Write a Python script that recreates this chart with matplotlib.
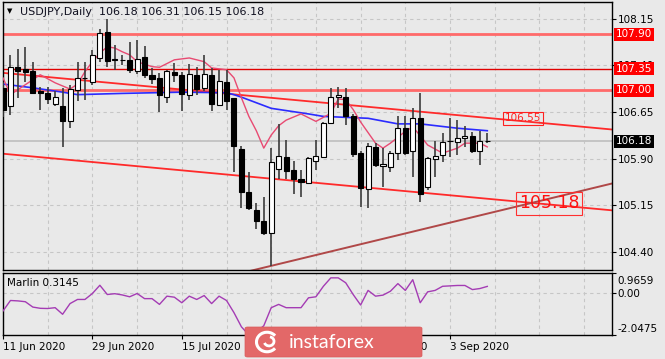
import matplotlib
matplotlib.use("Agg")
import matplotlib.pyplot as plt
from matplotlib.patches import FancyBboxPatch, Arc
from matplotlib.transforms import blended_transform_factory

# ---------------- data ----------------
symbol = "USDJPY,Daily"
date_ticks = [0, 12, 24, 36, 48, 60]
date_labels = ["11 Jun 2020", "29 Jun 2020", "15 Jul 2020", "31 Jul 2020", "18 Aug 2020", "3 Sep 2020"]

opens = [107.04, 106.75, 107.38, 107.34, 107.31, 106.99, 106.96, 106.78, 106.75, 106.50,
         107.00, 107.19, 107.14, 107.52, 107.93, 107.50, 107.49, 107.48, 107.31, 107.53,
         107.25, 107.19, 106.89, 107.30, 107.25, 106.92, 107.25, 107.03, 107.24, 106.77,
         107.13, 106.87, 106.06, 105.37, 105.07, 104.90, 104.70, 105.74, 105.93, 105.72,
         105.57, 105.51, 105.86, 105.92, 106.48, 106.89, 106.90, 106.58, 105.99, 105.42,
         106.09, 105.78, 105.77, 105.99, 106.40, 106.03, 106.56, 105.45, 105.89, 105.96,
         106.18, 106.17, 106.23, 106.27, 106.03, 106.18]
highs = [107.14, 107.56, 107.67, 107.69, 107.46, 107.05, 107.05, 106.99, 107.03, 107.08,
         107.46, 107.46, 107.65, 107.98, 108.15, 107.73, 107.56, 107.77, 107.81, 107.72,
         107.36, 107.28, 107.33, 107.44, 107.30, 107.42, 107.38, 107.56, 107.36, 107.33,
         107.33, 106.88, 106.11, 105.69, 105.18, 105.29, 106.08, 106.45, 106.20, 105.86,
         105.72, 105.92, 106.20, 106.49, 107.03, 107.06, 107.03, 106.62, 106.02, 106.15,
         106.15, 106.08, 106.03, 106.58, 106.59, 106.71, 106.95, 105.93, 106.18, 106.31,
         106.56, 106.52, 106.42, 106.33, 106.34, 106.31]
lows = [106.57, 106.60, 106.88, 107.14, 106.94, 106.68, 106.78, 106.75, 106.09, 106.39,
        106.82, 106.85, 107.09, 107.46, 107.38, 107.33, 107.41, 107.28, 107.26, 107.20,
        107.10, 106.65, 106.79, 107.13, 106.67, 106.85, 106.93, 106.99, 106.67, 106.74,
        106.69, 105.69, 105.11, 105.07, 104.77, 104.68, 104.18, 105.57, 105.57, 105.33,
        105.29, 105.49, 105.72, 105.91, 106.46, 106.71, 106.44, 105.93, 105.13, 105.10,
        105.77, 105.45, 105.68, 105.88, 105.96, 105.61, 105.21, 105.40, 105.60, 105.84,
        105.93, 105.96, 106.09, 105.99, 105.80, 106.15]
closes = [106.68, 107.38, 107.31, 107.30, 106.96, 106.95, 106.86, 106.89, 106.50, 107.02,
          107.19, 107.20, 107.56, 107.92, 107.47, 107.49, 107.48, 107.33, 107.51, 107.25,
          107.18, 106.92, 107.31, 107.25, 106.94, 107.26, 107.02, 107.26, 106.78, 107.15,
          106.83, 106.11, 105.37, 105.10, 104.90, 104.70, 105.84, 105.95, 105.70, 105.57,
          105.53, 105.91, 105.95, 106.47, 106.89, 106.93, 106.59, 105.97, 105.43, 106.11,
          105.80, 105.81, 105.99, 106.40, 105.99, 106.56, 105.34, 105.91, 105.94, 106.17,
          106.18, 106.23, 106.27, 106.03, 106.18, 106.18]

level_lines = [107.90, 107.35, 107.00]
level_styles = [("#ff6a6a", 2.0), ("#e00000", 1.0), ("#ff6a6a", 2.0)]
price_ticks = [108.15, 107.40, 106.65, 105.90, 105.15, 104.40]

upper_channel_x = [0, 81.7]
upper_channel_y = [107.28, 106.37]
lower_channel_x = [0, 81.7]
lower_channel_y = [105.98, 105.07]
support_x = [33, 81.7]
support_y = [104.09, 105.50]

label_upper = 106.55
label_cross = 105.18

blue_ma_bars = [0, 4, 8, 10, 16, 24, 30, 31, 32, 36, 41, 43, 49, 53, 56, 61, 65]
blue_ma_vals = [107.10, 107.04, 106.97, 106.93, 106.95, 106.97, 106.96, 106.93, 106.89,
                106.71, 106.62, 106.58, 106.55, 106.46, 106.46, 106.39, 106.35]

pink_ma_bars = [0, 1, 5, 7, 9, 10, 11, 12, 13, 14, 15, 16, 17, 18, 20, 21, 23, 25, 27, 28,
                30, 31, 32, 33, 34, 35, 36, 37, 38, 40, 42, 44, 45, 46, 47, 48, 49, 50, 51,
                52, 54, 55, 56, 57, 59, 61, 62, 64, 65]
pink_ma_vals = [107.20, 106.93, 107.25, 107.12, 107.02, 107.10, 107.30, 107.46, 107.60, 107.70,
                107.68, 107.62, 107.57, 107.46, 107.38, 107.37, 107.49, 107.52, 107.46, 107.36,
                107.33, 107.20, 106.88, 106.58, 106.35, 106.07, 106.28, 106.43, 106.52, 106.62,
                106.50, 106.63, 106.86, 106.85, 106.69, 106.49, 106.32, 106.15, 106.07,
                106.15, 106.34, 106.41, 106.27, 106.12, 105.99, 106.07, 106.15, 106.15, 106.09]

marlin_vals = [-0.88, -0.37, -0.39, -0.43, -0.69, -0.75, -0.76, -0.72, -1.04, -0.52,
               -0.32, -0.32, -0.03, 0.37, -0.08, -0.04, -0.10, -0.19, -0.03, -0.28,
               -0.28, -0.56, -0.16, -0.21, -0.48, -0.16, -0.32, -0.13, -0.52, -0.16,
               -0.37, -0.96, -1.65, -2.0475, -1.90, -1.60, -0.72, -0.56, -0.72, -0.72,
               -0.72, -0.24, -0.19, 0.32, 0.73, 0.73, 0.49, -0.08, -0.59, 0.12,
               -0.16, -0.11, 0.08, 0.45, 0.12, 0.64, -0.48, 0.05, 0.12, 0.32,
               0.34, 0.36, 0.36, 0.16, 0.21, 0.3145]
marlin_max = 0.9659
marlin_min = -2.0475
marlin_ticks = [0.9659, 0.0, -2.0475]
marlin_tick_labels = ["0.9659", "0.00", "-2.0475"]

# ---------------- figure ----------------
W, H = 665, 359
BG = "#e9e9e9"
GRID = "#c6c6c6"
FS = 7.5
fig = plt.figure(figsize=(W / 100, H / 100), dpi=100)
fig.patch.set_facecolor(BG)


def px_axes(x0, y0, x1, y1):
    return fig.add_axes([x0 / W, 1 - y1 / H, (x1 - x0) / W, (y1 - y0) / H])


ax = px_axes(3, 2, 612, 270)
ax2 = px_axes(3, 273, 612, 335)
XMAX = 81.74
for a in (ax, ax2):
    a.set_facecolor(BG)
    a.set_xlim(0, XMAX)
    for s in a.spines.values():
        s.set_color("black")
        s.set_linewidth(1.0)
    a.set_axisbelow(True)

# ---------------- main panel ----------------
ax.set_ylim(104.11, 108.42)
ax.set_xticks(range(0, 82, 6))
ax.tick_params(axis="x", length=0, labelbottom=False)
ax.yaxis.tick_right()
ax.set_yticks(price_ticks)
ax.set_yticklabels([f"{v:.2f}" for v in price_ticks])
ax.tick_params(axis="y", direction="out", length=3, width=0.8, pad=1.5, labelsize=FS, colors="black")
ax.grid(True, ls=(0, (3, 3)), color=GRID, lw=0.8)

# current price line
ax.axhline(closes[-1], color="#c4c4c4", lw=1.4, zorder=1)

# horizontal levels
for lvl, (c, lw) in zip(level_lines, level_styles):
    ax.axhline(lvl, color=c, lw=lw, zorder=2)

# trend lines
ax.plot(upper_channel_x, upper_channel_y, color="#ff2a2a", lw=1.3, zorder=2)
ax.plot(lower_channel_x, lower_channel_y, color="#ff2a2a", lw=1.3, zorder=2)
ax.plot(support_x, support_y, color="#b04848", lw=1.4, zorder=2)

# moving averages
ax.plot(blue_ma_bars, blue_ma_vals, color="#2b2bff", lw=1.2, zorder=3)
ax.plot(pink_ma_bars, pink_ma_vals, color="#e84a72", lw=1.0, zorder=3)

# candles
bars = list(range(len(opens)))
ax.vlines(bars, lows, highs, color="#3c3c3c", lw=1.2, zorder=4)
for i in bars:
    o, c = opens[i], closes[i]
    up = c >= o
    ax.bar(i, abs(c - o), bottom=min(o, c), width=0.68,
           facecolor="white" if up else "black", edgecolor="black", lw=0.8, zorder=5)

# right-side labels
rtrans = blended_transform_factory(ax.transAxes, ax.transData)
for lvl in level_lines:
    ax.annotate(f"{lvl:.2f}", xy=(1, lvl), xycoords=rtrans, xytext=(4, 0), textcoords="offset pixels",
                ha="left", va="center", fontsize=FS, color="white", annotation_clip=False, zorder=10,
                bbox=dict(boxstyle="square,pad=0.15", fc="#ff0000", ec="none"))
ax.annotate(f"{closes[-1]:.2f}", xy=(1, closes[-1]), xycoords=rtrans, xytext=(4, 0),
            textcoords="offset pixels", ha="left", va="center", fontsize=FS, color="white",
            annotation_clip=False, zorder=10,
            bbox=dict(boxstyle="square,pad=0.15", fc="black", ec="none"))

ax.text(69.8, label_upper, f"{label_upper:.2f}", fontsize=FS, color="#ff2020", ha="center", va="center",
        zorder=8, bbox=dict(boxstyle="square,pad=0.15", fc="none", ec="#ff2020", lw=0.8))
ax.text(73.3, label_cross, f"{label_cross:.2f}", fontsize=12.5, color="#ff1010", ha="center", va="center",
        zorder=8, bbox=dict(boxstyle="square,pad=0.15", fc="none", ec="#ff3030", lw=0.8))

# title
fig.text(7 / W, 1 - 11.5 / H, "\u25BC", fontsize=5, ha="left", va="center", color="black")
fig.text(20 / W, 1 - 12 / H,
         f"{symbol}  {opens[-1]:.2f} {highs[-1]:.2f} {lows[-1]:.2f} {closes[-1]:.2f}",
         fontsize=FS + 0.5, ha="left", va="center", color="#101020")

# ---------------- indicator panel ----------------
ax2.set_ylim(marlin_min, marlin_max)
ax2.set_xticks(date_ticks)
ax2.set_xticklabels(date_labels, ha="left")
ax2.set_xticks(range(0, 82, 6), minor=True)
ax2.tick_params(axis="x", which="major", direction="out", length=3, width=0.8, pad=2,
                labelsize=FS, colors="black")
ax2.tick_params(axis="x", which="minor", length=0)
ax2.xaxis.grid(True, which="both", ls=(0, (3, 3)), color=GRID, lw=0.8)
ax2.yaxis.tick_right()
ax2.set_yticks(marlin_ticks)
ax2.set_yticklabels([])
ax2.tick_params(axis="y", direction="out", length=3, width=0.8)
ax2.axhline(0, ls=(0, (3, 3)), color=GRID, lw=0.8, zorder=0)
ax2.plot(bars, marlin_vals, color="#a43cb4", lw=1.0, zorder=3)

r2 = blended_transform_factory(ax2.transAxes, ax2.transData)
for v, lab, dy in zip(marlin_ticks, marlin_tick_labels, [-8, -1.5, 6]):
    ax2.annotate(lab, xy=(1, v), xycoords=r2, xytext=(5, dy), textcoords="offset pixels",
                 ha="left", va="center", fontsize=FS, color="black", annotation_clip=False)
ax2.text(4 / 609, 0.84, f"Marlin {marlin_vals[-1]:.4f}", transform=ax2.transAxes,
         fontsize=FS, ha="left", va="center", color="black")

# ---------------- watermark logo ----------------
logo = FancyBboxPatch((245 / W, 2 / H), 177 / W, 30 / H,
                      boxstyle="round,pad=0,rounding_size=0.004",
                      transform=fig.transFigure, fc="#e36868", ec="#d85a5a", lw=0.5, zorder=20)
fig.add_artist(logo)
fig.text(289 / W, 1 - 342 / H, "instaforex", fontsize=14, family="Lato", color="white",
         ha="left", va="center", zorder=21)
iax = fig.add_axes([253 / W, 4 / H, 28 / W, 26 / H], zorder=22)
iax.set_xlim(-1, 1)
iax.set_ylim(-1, 1)
iax.axis("off")
iax.add_patch(Arc((0, 0), 1.5, 1.5, theta1=40, theta2=320, color="white", lw=2.2))
iax.add_patch(Arc((0.15, 0.05), 0.7, 0.7, theta1=200, theta2=80, color="white", lw=2.0))

fig.savefig("out.png", dpi=100, facecolor=BG)
